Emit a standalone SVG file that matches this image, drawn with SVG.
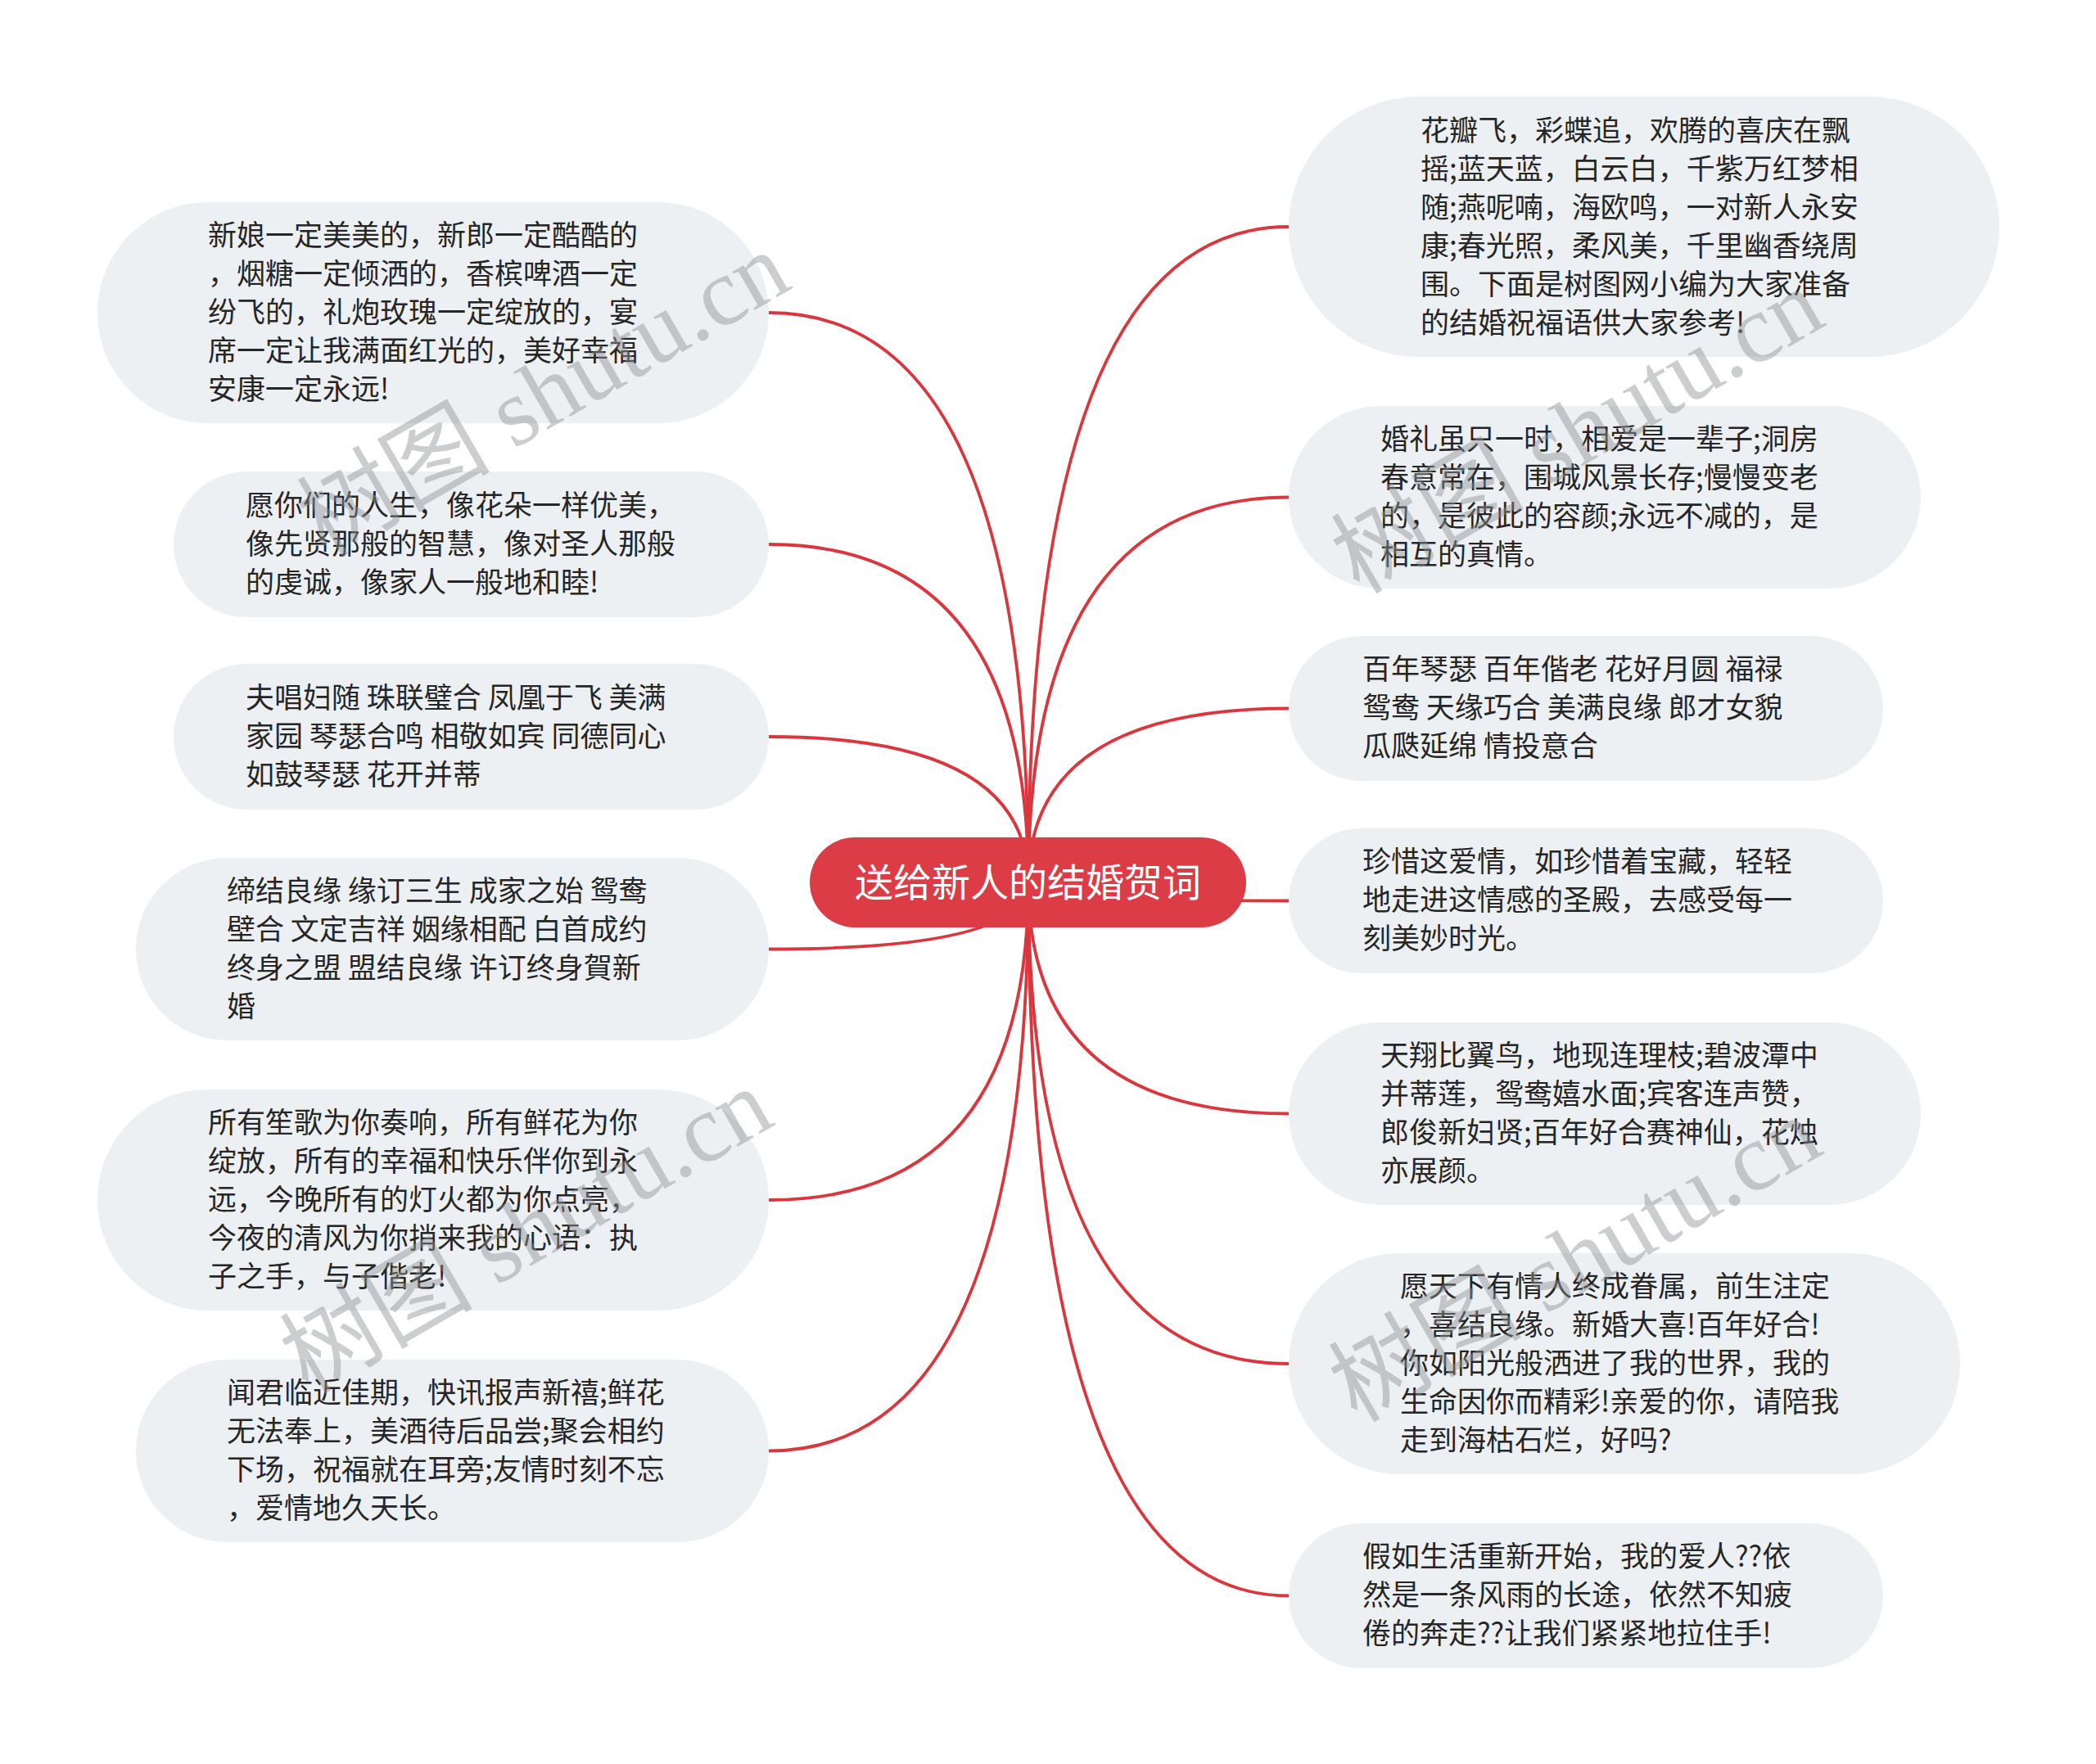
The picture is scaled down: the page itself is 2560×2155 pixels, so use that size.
<svg xmlns="http://www.w3.org/2000/svg" width="2560" height="2155" viewBox="0 0 2560 2155">
<style>
.bg{fill:#ffffff}
.conn path{fill:none;stroke:#d9363e;stroke-width:3.8}
.node rect{fill:#edf0f3}
.node text{font-family:"Noto Sans CJK SC","Liberation Sans",sans-serif;font-size:35px;fill:#262626}
.root rect{fill:#dc3c45}
.root text{font-family:"Noto Sans CJK SC","Liberation Sans",sans-serif;font-size:47px;fill:#ffffff}
.wm{font-family:"Liberation Serif","Noto Sans CJK SC",serif;font-size:118px;fill:#8f9296;opacity:0.45}
</style>
<rect class="bg" x="0" y="0" width="2560" height="2155"/>
<g id="connectors" class="conn">
<path d="M1256 1078 Q1256 382 939 382"/>
<path d="M1256 1078 Q1256 665 939 665"/>
<path d="M1256 1078 Q1256 900 939 900"/>
<path d="M1256 1078 Q1256 1159.5 939 1159.5"/>
<path d="M1256 1078 Q1256 1466 939 1466"/>
<path d="M1256 1078 Q1256 1772.5 939 1772.5"/>
<path d="M1256 1078 Q1256 277 1574 277"/>
<path d="M1256 1078 Q1256 607.5 1574 607.5"/>
<path d="M1256 1078 Q1256 865.5 1574 865.5"/>
<path d="M1256 1078 Q1256 1100.5 1574 1100.5"/>
<path d="M1256 1078 Q1256 1360.5 1574 1360.5"/>
<path d="M1256 1078 Q1256 1666 1574 1666"/>
<path d="M1256 1078 Q1256 1949.5 1574 1949.5"/>
</g>
<g id="root" class="root">
<rect x="989" y="1023" width="533" height="110" rx="55" ry="55"/>
<text x="1255.5" y="1095" text-anchor="middle">送给新人的结婚贺词</text>
</g>
<g id="L1" class="node">
<rect x="119" y="247" width="820" height="270" rx="135" ry="135"/>
<text x="254"><tspan x="254" y="300">新娘一定美美的，新郎一定酷酷的</tspan><tspan x="254" y="347">，烟糖一定倾洒的，香槟啤酒一定</tspan><tspan x="254" y="394">纷飞的，礼炮玫瑰一定绽放的，宴</tspan><tspan x="254" y="441">席一定让我满面红光的，美好幸福</tspan><tspan x="254" y="488">安康一定永远!</tspan></text>
</g>
<g id="L2" class="node">
<rect x="212" y="576" width="727" height="178" rx="89" ry="89"/>
<text><tspan x="300" y="630">愿你们的人生，像花朵一样优美，</tspan><tspan x="300" y="677">像先贤那般的智慧，像对圣人那般</tspan><tspan x="300" y="724">的虔诚，像家人一般地和睦!</tspan></text>
</g>
<g id="L3" class="node">
<rect x="212" y="811" width="727" height="178" rx="89" ry="89"/>
<text><tspan x="300" y="865">夫唱妇随 珠联璧合 凤凰于飞 美满</tspan><tspan x="300" y="912">家园 琴瑟合鸣 相敬如宾 同德同心</tspan><tspan x="300" y="959">如鼓琴瑟 花开并蒂</tspan></text>
</g>
<g id="L4" class="node">
<rect x="166" y="1048" width="773" height="223" rx="111.5" ry="111.5"/>
<text><tspan x="277" y="1101">缔结良缘 缘订三生 成家之始 鸳鸯</tspan><tspan x="277" y="1148">壁合 文定吉祥 姻缘相配 白首成约</tspan><tspan x="277" y="1195">终身之盟 盟结良缘 许订终身賀新</tspan><tspan x="277" y="1242">婚</tspan></text>
</g>
<g id="L5" class="node">
<rect x="119" y="1331" width="820" height="270" rx="135" ry="135"/>
<text><tspan x="254" y="1384">所有笙歌为你奏响，所有鲜花为你</tspan><tspan x="254" y="1431">绽放，所有的幸福和快乐伴你到永</tspan><tspan x="254" y="1478">远，今晚所有的灯火都为你点亮，</tspan><tspan x="254" y="1525">今夜的清风为你捎来我的心语：执</tspan><tspan x="254" y="1572">子之手，与子偕老!</tspan></text>
</g>
<g id="L6" class="node">
<rect x="166" y="1661" width="773" height="223" rx="111.5" ry="111.5"/>
<text><tspan x="277" y="1714">闻君临近佳期，快讯报声新禧;鲜花</tspan><tspan x="277" y="1761">无法奉上，美酒待后品尝;聚会相约</tspan><tspan x="277" y="1808">下场，祝福就在耳旁;友情时刻不忘</tspan><tspan x="277" y="1855">，爱情地久天长。</tspan></text>
</g>
<g id="R1" class="node">
<rect x="1574" y="118" width="868" height="318" rx="159" ry="159"/>
<text><tspan x="1735" y="172">花瓣飞，彩蝶追，欢腾的喜庆在飘</tspan><tspan x="1735" y="219">摇;蓝天蓝，白云白，千紫万红梦相</tspan><tspan x="1735" y="266">随;燕呢喃，海欧鸣，一对新人永安</tspan><tspan x="1735" y="313">康;春光照，柔风美，千里幽香绕周</tspan><tspan x="1735" y="360">围。下面是树图网小编为大家准备</tspan><tspan x="1735" y="407">的结婚祝福语供大家参考!</tspan></text>
</g>
<g id="R2" class="node">
<rect x="1574" y="496" width="772" height="223" rx="111.5" ry="111.5"/>
<text><tspan x="1686" y="549">婚礼虽只一时，相爱是一辈子;洞房</tspan><tspan x="1686" y="596">春意常在，围城风景长存;慢慢变老</tspan><tspan x="1686" y="643">的，是彼此的容颜;永远不减的，是</tspan><tspan x="1686" y="690">相互的真情。</tspan></text>
</g>
<g id="R3" class="node">
<rect x="1574" y="777" width="726" height="177" rx="88.5" ry="88.5"/>
<text><tspan x="1664" y="830">百年琴瑟 百年偕老 花好月圆 福禄</tspan><tspan x="1664" y="877">鸳鸯 天缘巧合 美满良缘 郎才女貌</tspan><tspan x="1664" y="924">瓜瓞延绵 情投意合</tspan></text>
</g>
<g id="R4" class="node">
<rect x="1574" y="1012" width="726" height="177" rx="88.5" ry="88.5"/>
<text><tspan x="1664" y="1065">珍惜这爱情，如珍惜着宝藏，轻轻</tspan><tspan x="1664" y="1112">地走进这情感的圣殿，去感受每一</tspan><tspan x="1664" y="1159">刻美妙时光。</tspan></text>
</g>
<g id="R5" class="node">
<rect x="1574" y="1249" width="772" height="223" rx="111.5" ry="111.5"/>
<text><tspan x="1686" y="1302">天翔比翼鸟，地现连理枝;碧波潭中</tspan><tspan x="1686" y="1349">并蒂莲，鸳鸯嬉水面;宾客连声赞，</tspan><tspan x="1686" y="1396">郎俊新妇贤;百年好合赛神仙，花烛</tspan><tspan x="1686" y="1443">亦展颜。</tspan></text>
</g>
<g id="R6" class="node">
<rect x="1574" y="1531" width="820" height="270" rx="135" ry="135"/>
<text><tspan x="1710" y="1584">愿天下有情人终成眷属，前生注定</tspan><tspan x="1710" y="1631">，喜结良缘。新婚大喜!百年好合!</tspan><tspan x="1710" y="1678">你如阳光般洒进了我的世界，我的</tspan><tspan x="1710" y="1725">生命因你而精彩!亲爱的你，请陪我</tspan><tspan x="1710" y="1772">走到海枯石烂，好吗?</tspan></text>
</g>
<g id="R7" class="node">
<rect x="1574" y="1861" width="726" height="177" rx="88.5" ry="88.5"/>
<text><tspan x="1664" y="1914">假如生活重新开始，我的爱人??依</tspan><tspan x="1664" y="1961">然是一条风雨的长途，依然不知疲</tspan><tspan x="1664" y="2008">倦的奔走??让我们紧紧地拉住手!</tspan></text>
</g>
<g id="watermarks">
<text class="wm" x="664" y="482" text-anchor="middle" dominant-baseline="central" transform="rotate(-30 664 482)">树图 shutu.cn</text>
<text class="wm" x="1927" y="527" text-anchor="middle" dominant-baseline="central" transform="rotate(-30 1927 527)">树图 shutu.cn</text>
<text class="wm" x="643" y="1504" text-anchor="middle" dominant-baseline="central" transform="rotate(-30 643 1504)">树图 shutu.cn</text>
<text class="wm" x="1924" y="1539" text-anchor="middle" dominant-baseline="central" transform="rotate(-30 1924 1539)">树图 shutu.cn</text>
</g>
</svg>
